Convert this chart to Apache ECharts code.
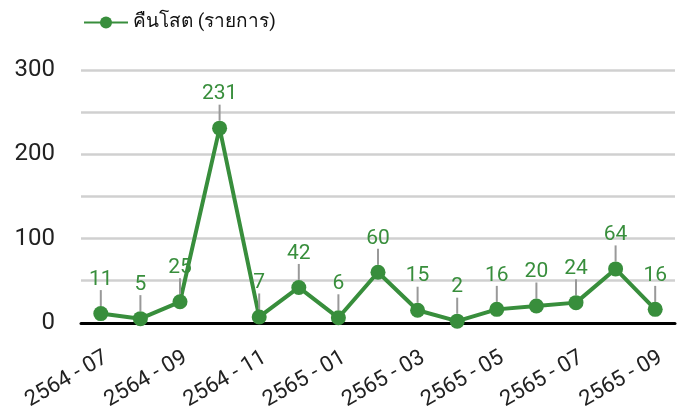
<!DOCTYPE html>
<html><head><meta charset="utf-8">
<script src="https://cdn.jsdelivr.net/npm/echarts@6/dist/echarts.min.js"></script>
<style>html,body{margin:0;padding:0;background:#fff}#c{width:681px;height:413px}</style>
</head><body><div id="c"></div>
<script>
var categories = ['2564 - 07','2564 - 08','2564 - 09','2564 - 10','2564 - 11','2564 - 12','2565 - 01','2565 - 02','2565 - 03','2565 - 04','2565 - 05','2565 - 06','2565 - 07','2565 - 08','2565 - 09'];
var values = [11,5,25,231,7,42,6,60,15,2,16,20,24,64,16];
var seriesName = 'คืนโสต (รายการ)';
var yTicks = [0,100,200,300];

var chart = echarts.init(document.getElementById('c'));
var green = '#388e3c';
chart.setOption({
  animation:false,
  textStyle:{fontFamily:'Roboto, sans-serif'},
  legend:{left:78, top:8, itemWidth:44, itemHeight:15, itemGap:10, data:[seriesName],
    textStyle:{fontSize:19, color:'#111'}},
  grid:{left:81, right:6, top:70, bottom:86},
  xAxis:{type:'category', data:categories, boundaryGap:true,
    axisLine:{lineStyle:{color:'#000', width:3}},
    axisTick:{show:false},
    axisLabel:{interval:1, rotate:30, fontSize:22, color:'#222', margin:24, verticalAlign:'top'}},
  yAxis:{type:'value', min:0, max:300, interval:50,
    axisLine:{show:false}, axisTick:{show:false},
    splitLine:{lineStyle:{color:'#d0d0d0', width:2.5}},
    axisLabel:{fontSize:24, color:'#222', margin:26,
      formatter:function(v){return yTicks.indexOf(v)>=0?String(v):'';}}},
  series:[{name:seriesName, type:'line', data:values,
    symbol:'circle', symbolSize:15,
    itemStyle:{color:green}, lineStyle:{color:green, width:4},
    label:{show:true, position:'top', distance:2, fontSize:21, color:green},
    labelLayout:{dy:-14},
    labelLine:{show:true, lineStyle:{color:'#999', width:2}}
  }]
});
</script></body></html>
